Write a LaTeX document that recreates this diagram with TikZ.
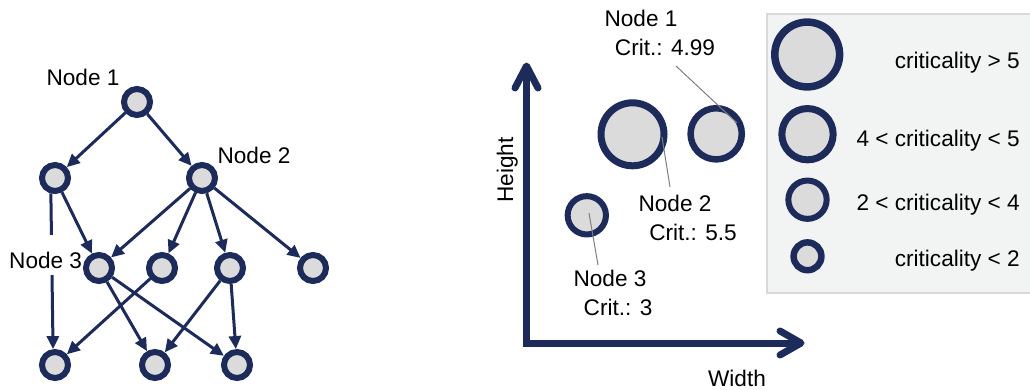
\documentclass[tikz,border=0pt]{standalone}
\usepackage{fontspec}
\setmainfont{Liberation Sans}
\usetikzlibrary{arrows.meta}
\definecolor{navy}{HTML}{1D2B5B}
\definecolor{cfill}{HTML}{DBDBDB}
\definecolor{legfill}{HTML}{F2F3F3}
\definecolor{legdraw}{HTML}{D9D9D9}
\definecolor{leadergray}{HTML}{7F7F7F}
\begin{document}
\begin{tikzpicture}[x=1pt,y=-1pt,
  gnode/.style={circle,draw=navy,fill=cfill,line width=6pt,minimum size=26pt,inner sep=0pt},
  gedge/.style={draw=navy,line width=3pt,-{Triangle[length=13pt,width=12pt]}},
  lbl/.style={font=\fontsize{22.6}{25}\selectfont,inner sep=0pt,text height=16.2pt,text depth=0pt},
  bubble/.style={circle,draw=navy,fill=cfill,inner sep=0pt},
  leaderline/.style={draw=leadergray,line width=1pt},
  axisline/.style={draw=navy,line width=7pt}]
\fill[white] (0,0) rectangle (1030,389);
\useasboundingbox (0,0) rectangle (1030,389);

% ---------- left graph ----------
\node[gnode] (n1)  at (137,102) {};
\node[gnode] (r2a) at (55,178) {};
\node[gnode] (r2b) at (202,178) {};
\node[gnode] (r3a) at (99,268) {};
\node[gnode] (r3b) at (162,268) {};
\node[gnode] (r3c) at (230,268) {};
\node[gnode] (r3d) at (313,268) {};
\node[gnode] (r4a) at (55,365) {};
\node[gnode] (r4b) at (155,365) {};
\node[gnode] (r4c) at (237,365) {};

\draw[gedge] (r2a.255) -- (r4a.97);
\node[lbl,anchor=base west,fill=white,text height=33pt,text depth=7pt] (lab3) at (9,268) {Node 3};

\draw[gedge] (n1) -- (r2a);
\draw[gedge] (n1) -- (r2b);
\draw[gedge] (r2a) -- (r3a);
\draw[gedge] (r2b) -- (r3a);
\draw[gedge] (r2b) -- (r3b);
\draw[gedge] (r2b) -- (r3c);
\draw[gedge] (r2b) -- (r3d);
\draw[gedge] (r3a) -- (r4b);
\draw[gedge] (r3a) -- (r4c);
\draw[gedge] (r3b) -- (r4a);
\draw[gedge] (r3c) -- (r4b);
\draw[gedge] (r3c) -- (r4c);

\node[lbl] (lab1) at (83,77) {Node 1};
\node[lbl] (lab2) at (254,155) {Node 2};

% ---------- right chart ----------
\draw[axisline,line join=miter] (526.5,66) -- (526.5,343) -- (801,343);
\draw[axisline,line cap=round,line join=round] (515,88) -- (526.5,66) -- (538,88);
\draw[axisline,line cap=round,line join=round] (780,331) -- (801,343) -- (780,355);
\node[lbl,rotate=90] (hlab) at (505,170) {Height};
\node[lbl] (wlab) at (737,378) {Width};

\node[bubble,line width=7pt,minimum size=63pt] (c2) at (632.5,134.3) {};
\node[bubble,line width=6.5pt,minimum size=51.2pt] (c1) at (716.2,133.8) {};
\node[bubble,line width=6pt,minimum size=38.3pt] (c3) at (586.8,215.3) {};

\node[lbl] (t1a) at (641,18) {Node 1};
\node[lbl] (t1b) at (665,47) {Crit.: 4.99};
\node[lbl] (t2a) at (675,203) {Node 2};
\node[lbl] (t2b) at (693,232) {Crit.: 5.5};
\node[lbl] (t3a) at (610,278) {Node 3};
\node[lbl] (t3b) at (618,307) {Crit.: 3};

\coordinate (l1s) at (676,66);
\coordinate (l1e) at (737,123);
\coordinate (l2s) at (662,137);
\coordinate (l2e) at (670,187);
\coordinate (l3s) at (589,213);
\coordinate (l3e) at (598,265);
\draw[leaderline] (l1s) -- (l1e);
\draw[leaderline] (l2s) -- (l2e);
\draw[leaderline] (l3s) -- (l3e);

% ---------- legend ----------
\draw[draw=legdraw,fill=legfill,line width=1.5pt] (767,14) rectangle (1034,293);
\node[bubble,line width=7.5pt,minimum size=64.8pt] (g1) at (807.2,54.5) {};
\node[bubble,line width=7pt,minimum size=51.3pt] (g2) at (807.5,134.2) {};
\node[bubble,line width=6pt,minimum size=38.3pt] (g3) at (807.5,199.7) {};
\node[bubble,line width=6.5pt,minimum size=27.8pt] (g4) at (807.5,256.3) {};
\node[lbl,anchor=east] (k1) at (1020,60) {criticality > 5};
\node[lbl,anchor=east] (k2) at (1020,138) {4 < criticality < 5};
\node[lbl,anchor=east] (k3) at (1020,202) {2 < criticality < 4};
\node[lbl,anchor=east] (k4) at (1020,258) {criticality < 2};
\end{tikzpicture}
\end{document}
